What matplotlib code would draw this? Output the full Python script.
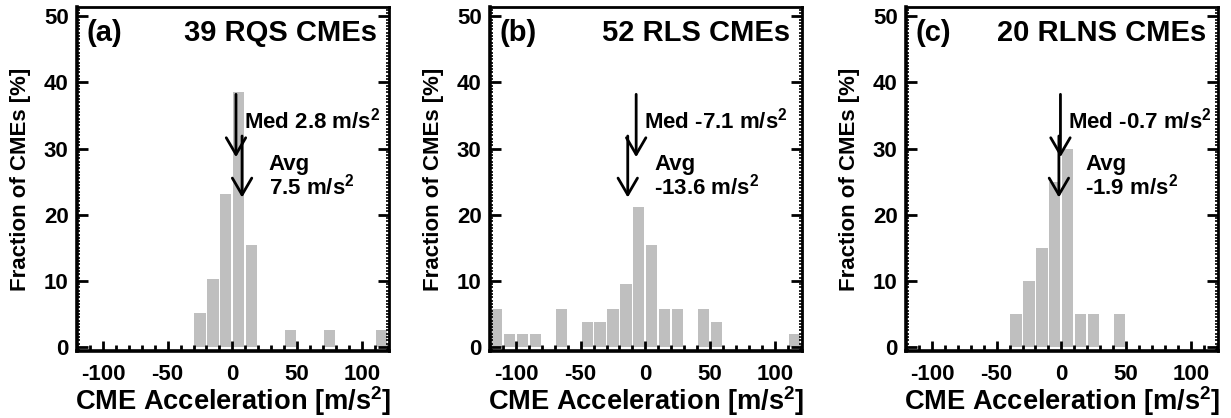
import numpy as np
import matplotlib
matplotlib.use('Agg')
import matplotlib.pyplot as plt
from matplotlib.ticker import MultipleLocator

plt.rcParams['font.family'] = ['Liberation Sans', 'DejaVu Sans']
plt.rcParams['font.weight'] = 'bold'
plt.rcParams['axes.unicode_minus'] = False
plt.rcParams['mathtext.fontset'] = 'custom'
plt.rcParams['mathtext.rm'] = 'Liberation Sans:bold'
plt.rcParams['mathtext.bf'] = 'Liberation Sans:bold'
plt.rcParams['mathtext.default'] = 'rm'

# bin centres (m/s^2) and fraction of CMEs (%)
a_bins = [-25, -15, -5, 5, 15, 45, 75, 115]
a_pct = [5.1, 10.3, 23.1, 38.5, 15.4, 2.6, 2.6, 2.6]

b_bins = [-115, -105, -95, -85, -65, -45, -35, -25, -15, -5, 5, 15, 25, 45, 55, 115]
b_pct = [5.8, 1.9, 1.9, 1.9, 5.8, 3.8, 3.8, 5.8, 9.6, 21.2, 15.4, 5.8, 5.8, 5.8, 3.8, 1.9]

c_bins = [-35, -25, -15, -5, 5, 15, 25, 45]
c_pct = [5.0, 10.0, 15.0, 25.0, 30.0, 5.0, 5.0, 5.0]

panels = ['(a)', '(b)', '(c)']
titles = ['39 RQS CMEs', '52 RLS CMEs', '20 RLNS CMEs']
medians = [2.8, -7.1, -0.7]
averages = [7.5, -13.6, -1.9]
bins_all = [a_bins, b_bins, c_bins]
pct_all = [a_pct, b_pct, c_pct]

fig = plt.figure(figsize=(12.31, 4.18), dpi=100)
lefts = [77, 490, 906]

for i in range(3):
    ax = fig.add_axes([lefts[i] / 1231, 1 - 351 / 418, 312 / 1231, 344 / 418])
    ax.bar(bins_all[i], pct_all[i], width=8.6, color='#bfbfbf', zorder=1)
    ax.set_xlim(-120, 121)
    ax.set_ylim(-0.6, 51.4)

    for s in ['left', 'bottom']:
        ax.spines[s].set_linewidth(2.6)
    for s in ['top', 'right']:
        ax.spines[s].set_linewidth(2.0)

    ax.xaxis.set_major_locator(MultipleLocator(50))
    ax.xaxis.set_minor_locator(MultipleLocator(10))
    ax.yaxis.set_major_locator(MultipleLocator(10))
    ax.yaxis.set_minor_locator(MultipleLocator(0.5))
    ax.tick_params(axis='x', which='major', direction='in', length=7, width=2, pad=9,
                   labelsize=16, top=False)
    ax.tick_params(axis='x', which='minor', direction='in', length=4, width=2, top=False)
    ax.tick_params(axis='y', which='major', direction='in', length=8, width=2, pad=6,
                   labelsize=16, right=True)
    ax.tick_params(axis='y', which='minor', direction='in', length=2.5, width=1.2, right=True)
    for lab in ax.get_xticklabels() + ax.get_yticklabels():
        lab.set_fontweight('bold')

    ax.set_xlabel('CME Acceleration [m/s$^2$]', fontsize=19.6, fontweight='bold', labelpad=0)
    ax.set_ylabel('Fraction of CMEs [%]', fontsize=16, fontweight='bold', labelpad=9)

    ax.text(0.03, 0.9, panels[i], transform=ax.transAxes, fontsize=21, fontweight='bold',
            ha='left', va='baseline')
    ax.text(0.962, 0.9, titles[i], transform=ax.transAxes, fontsize=21, fontweight='bold',
            ha='right', va='baseline')

    med = medians[i]
    avg = averages[i]
    arrow = dict(arrowstyle='->,head_length=0.6,head_width=0.35', lw=2.0, color='black',
                 shrinkA=0, shrinkB=0, mutation_scale=20)
    ax.annotate('', xy=(med, 28.7), xytext=(med, 38.2), arrowprops=arrow, zorder=3)
    ax.annotate('', xy=(avg, 22.6), xytext=(avg, 31.9), arrowprops=arrow, zorder=3)
    ax.text(med + 6, 33.0, 'Med %.1f m/s$^2$' % med, fontsize=16, fontweight='bold',
            ha='left', va='baseline')
    ax.text(avg + 20.5, 26.8, 'Avg', fontsize=16, fontweight='bold', ha='left', va='baseline')
    ax.text(avg + 20.5, 23.1, '%.1f m/s$^2$' % avg, fontsize=16, fontweight='bold',
            ha='left', va='baseline')

fig.savefig('out.png', dpi=100)
